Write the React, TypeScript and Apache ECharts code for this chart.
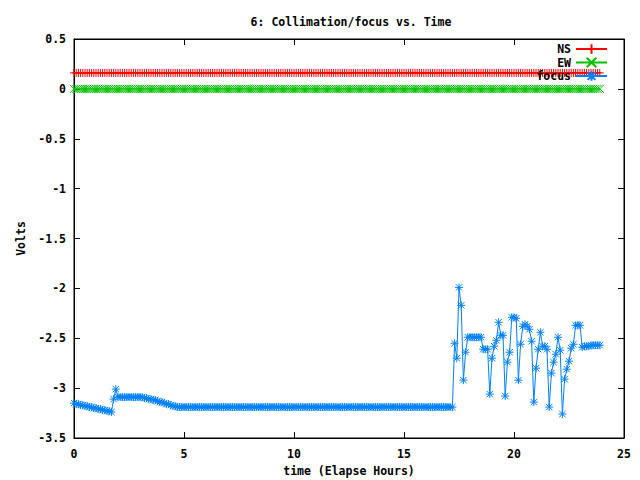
import React, { useEffect, useRef } from "react";
import * as echarts from "echarts";

const TITLE = "6: Collimation/focus vs. Time";
const X_NAME = "time (Elapse Hours)";
const Y_NAME = "Volts";
const SERIES_NAMES = ["NS", "EW", "focus"];
const X_TICKS = [0, 5, 10, 15, 20, 25];
const Y_TICKS = [0.5, 0, -0.5, -1, -1.5, -2, -2.5, -3, -3.5];

// focus voltage, one sample every 0.1 h from t = 0.0 h to t = 23.9 h
const focusValues = [
  // 0.0 - 1.9
  -3.15, -3.16, -3.16, -3.17, -3.17, -3.18, -3.18, -3.19, -3.19, -3.20,
  -3.20, -3.21, -3.21, -3.22, -3.22, -3.23, -3.23, -3.24, -3.11, -3.01,
  // 2.0 - 4.9
  -3.09, -3.09, -3.09, -3.09, -3.09, -3.09, -3.09, -3.09, -3.09, -3.09,
  -3.09, -3.09, -3.10, -3.10, -3.11, -3.11, -3.12, -3.12, -3.13, -3.14,
  -3.14, -3.15, -3.16, -3.16, -3.17, -3.18, -3.18, -3.19, -3.19, -3.19,
  // 5.0 - 17.2
  -3.19, -3.19, -3.19, -3.19, -3.19, -3.19, -3.19, -3.19, -3.19, -3.19,
  -3.19, -3.19, -3.19, -3.19, -3.19, -3.19, -3.19, -3.19, -3.19, -3.19,
  -3.19, -3.19, -3.19, -3.19, -3.19, -3.19, -3.19, -3.19, -3.19, -3.19,
  -3.19, -3.19, -3.19, -3.19, -3.19, -3.19, -3.19, -3.19, -3.19, -3.19,
  -3.19, -3.19, -3.19, -3.19, -3.19, -3.19, -3.19, -3.19, -3.19, -3.19,
  -3.19, -3.19, -3.19, -3.19, -3.19, -3.19, -3.19, -3.19, -3.19, -3.19,
  -3.19, -3.19, -3.19, -3.19, -3.19, -3.19, -3.19, -3.19, -3.19, -3.19,
  -3.19, -3.19, -3.19, -3.19, -3.19, -3.19, -3.19, -3.19, -3.19, -3.19,
  -3.19, -3.19, -3.19, -3.19, -3.19, -3.19, -3.19, -3.19, -3.19, -3.19,
  -3.19, -3.19, -3.19, -3.19, -3.19, -3.19, -3.19, -3.19, -3.19, -3.19,
  -3.19, -3.19, -3.19, -3.19, -3.19, -3.19, -3.19, -3.19, -3.19, -3.19,
  -3.19, -3.19, -3.19, -3.19, -3.19, -3.19, -3.19, -3.19, -3.19, -3.19,
  -3.19, -3.19, -3.19,
  // 17.3 - 23.9
  -2.55, -2.70, -1.99, -2.17, -2.92, -2.64, -2.49, -2.49, -2.49, -2.49,
  -2.49, -2.49, -2.49, -2.61, -2.61, -2.61, -3.06, -2.70, -2.58, -2.52,
  -2.34, -2.47, -2.47, -3.08, -2.74, -2.64, -2.29, -2.29, -2.30, -2.92,
  -2.56, -2.38, -2.36, -2.38, -2.41, -2.53, -3.14, -2.80, -2.61, -2.44,
  -2.58, -2.58, -2.61, -3.19, -2.85, -2.74, -2.66, -2.49, -2.62, -3.26,
  -2.91, -2.81, -2.73, -2.60, -2.56, -2.37, -2.37, -2.37, -2.59, -2.58,
  -2.58, -2.58, -2.57, -2.57, -2.57, -2.57, -2.57,
];

const nsValues = [
  0.16, 0.16, 0.16, 0.16, 0.16, 0.16, 0.16, 0.16, 0.16, 0.16, 0.16, 0.16, 0.16, 0.16, 0.16, 0.16, 0.16, 0.16, 0.16, 0.16,
  0.16, 0.16, 0.16, 0.16, 0.16, 0.16, 0.16, 0.16, 0.16, 0.16, 0.16, 0.16, 0.16, 0.16, 0.16, 0.16, 0.16, 0.16, 0.16, 0.16,
  0.16, 0.16, 0.16, 0.16, 0.16, 0.16, 0.16, 0.16, 0.16, 0.16, 0.16, 0.16, 0.16, 0.16, 0.16, 0.16, 0.16, 0.16, 0.16, 0.16,
  0.16, 0.16, 0.16, 0.16, 0.16, 0.16, 0.16, 0.16, 0.16, 0.16, 0.16, 0.16, 0.16, 0.16, 0.16, 0.16, 0.16, 0.16, 0.16, 0.16,
  0.16, 0.16, 0.16, 0.16, 0.16, 0.16, 0.16, 0.16, 0.16, 0.16, 0.16, 0.16, 0.16, 0.16, 0.16, 0.16, 0.16, 0.16, 0.16, 0.16,
  0.16, 0.16, 0.16, 0.16, 0.16, 0.16, 0.16, 0.16, 0.16, 0.16, 0.16, 0.16, 0.16, 0.16, 0.16, 0.16, 0.16, 0.16, 0.16, 0.16,
  0.16, 0.16, 0.16, 0.16, 0.16, 0.16, 0.16, 0.16, 0.16, 0.16, 0.16, 0.16, 0.16, 0.16, 0.16, 0.16, 0.16, 0.16, 0.16, 0.16,
  0.16, 0.16, 0.16, 0.16, 0.16, 0.16, 0.16, 0.16, 0.16, 0.16, 0.16, 0.16, 0.16, 0.16, 0.16, 0.16, 0.16, 0.16, 0.16, 0.16,
  0.16, 0.16, 0.16, 0.16, 0.16, 0.16, 0.16, 0.16, 0.16, 0.16, 0.16, 0.16, 0.16, 0.16, 0.16, 0.16, 0.16, 0.16, 0.16, 0.16,
  0.16, 0.16, 0.16, 0.16, 0.16, 0.16, 0.16, 0.16, 0.16, 0.16, 0.16, 0.16, 0.16, 0.16, 0.16, 0.16, 0.16, 0.16, 0.16, 0.16,
  0.16, 0.16, 0.16, 0.16, 0.16, 0.16, 0.16, 0.16, 0.16, 0.16, 0.16, 0.16, 0.16, 0.16, 0.16, 0.16, 0.16, 0.16, 0.16, 0.16,
  0.16, 0.16, 0.16, 0.16, 0.16, 0.16, 0.16, 0.16, 0.16, 0.16, 0.16, 0.16, 0.16, 0.16, 0.16, 0.16, 0.16, 0.16, 0.16, 0.16,
];

const ewValues = [
  0, 0, 0, 0, 0, 0, 0, 0, 0, 0, 0, 0, 0, 0, 0, 0, 0, 0, 0, 0,
  0, 0, 0, 0, 0, 0, 0, 0, 0, 0, 0, 0, 0, 0, 0, 0, 0, 0, 0, 0,
  0, 0, 0, 0, 0, 0, 0, 0, 0, 0, 0, 0, 0, 0, 0, 0, 0, 0, 0, 0,
  0, 0, 0, 0, 0, 0, 0, 0, 0, 0, 0, 0, 0, 0, 0, 0, 0, 0, 0, 0,
  0, 0, 0, 0, 0, 0, 0, 0, 0, 0, 0, 0, 0, 0, 0, 0, 0, 0, 0, 0,
  0, 0, 0, 0, 0, 0, 0, 0, 0, 0, 0, 0, 0, 0, 0, 0, 0, 0, 0, 0,
  0, 0, 0, 0, 0, 0, 0, 0, 0, 0, 0, 0, 0, 0, 0, 0, 0, 0, 0, 0,
  0, 0, 0, 0, 0, 0, 0, 0, 0, 0, 0, 0, 0, 0, 0, 0, 0, 0, 0, 0,
  0, 0, 0, 0, 0, 0, 0, 0, 0, 0, 0, 0, 0, 0, 0, 0, 0, 0, 0, 0,
  0, 0, 0, 0, 0, 0, 0, 0, 0, 0, 0, 0, 0, 0, 0, 0, 0, 0, 0, 0,
  0, 0, 0, 0, 0, 0, 0, 0, 0, 0, 0, 0, 0, 0, 0, 0, 0, 0, 0, 0,
  0, 0, 0, 0, 0, 0, 0, 0, 0, 0, 0, 0, 0, 0, 0, 0, 0, 0, 0, 0,
];

const SAMPLE_STEP_HOURS = 0.1;
const times = focusValues.map((_, i) => Math.round(i * SAMPLE_STEP_HOURS * 10) / 10);

const FONT = "'DejaVu Sans Mono', monospace";
const PLUS = "path://M5,0L5,10M0,5L10,5";
const CROSS = "path://M0,0L10,10M0,10L10,0";
const STAR = "path://M5,0L5,10M0,5L10,5M1,1L9,9M1,9L9,1";

export default function App() {
  const ref = useRef<HTMLDivElement>(null);
  useEffect(() => {
    if (!ref.current) return;
    const chart = echarts.init(ref.current, null, { renderer: "svg" });
    const pair = (vals: number[]) => vals.map((v, i) => [times[i], v]);
    const textStyle = { fontFamily: FONT, fontSize: 11.5, fontWeight: "bold", color: "#000" };
    const axisCommon = {
      axisLine: { show: true, onZero: false, lineStyle: { color: "#000", width: 1 } },
      axisTick: { show: true, inside: true, length: 6, lineStyle: { color: "#000", width: 1 } },
      splitLine: { show: false },
    };
    const mkSeries = (name: string, vals: number[], color: string, symbol: string, size: number) => ({
      name,
      type: "line",
      data: pair(vals),
      symbol,
      symbolSize: size,
      showSymbol: true,
      showAllSymbol: true,
      lineStyle: { color, width: 1 },
      itemStyle: { color, borderColor: color, borderWidth: 1 },
      emphasis: { disabled: true },
    });
    chart.setOption({
      animation: false,
      backgroundColor: "#fff",
      title: {
        text: TITLE,
        left: 346,
        top: 11,
        textAlign: "center",
        textStyle: { ...textStyle },
      },
      legend: {
        data: SERIES_NAMES,
        orient: "vertical",
        right: 32,
        top: 43,
        align: "right",
        itemWidth: 31,
        itemHeight: 12,
        itemGap: 1.5,
        padding: 0,
        textStyle: { ...textStyle },
        selectedMode: false,
      },
      grid: {
        left: 74,
        right: 16,
        top: 39,
        bottom: 42,
        show: true,
        borderColor: "#000",
        borderWidth: 1,
        containLabel: false,
        outerBoundsMode: "none",
      },
      xAxis: [
        {
          type: "value",
          min: X_TICKS[0],
          max: X_TICKS[X_TICKS.length - 1],
          interval: X_TICKS[1] - X_TICKS[0],
          position: "bottom",
          name: X_NAME,
          nameLocation: "middle",
          nameGap: 24,
          nameTextStyle: { ...textStyle },
          axisLabel: { ...textStyle, margin: 10 },
          ...axisCommon,
        },
        {
          type: "value",
          min: X_TICKS[0],
          max: X_TICKS[X_TICKS.length - 1],
          interval: X_TICKS[1] - X_TICKS[0],
          position: "top",
          axisLabel: { show: false },
          ...axisCommon,
        },
      ],
      yAxis: [
        {
          type: "value",
          min: Y_TICKS[Y_TICKS.length - 1],
          max: Y_TICKS[0],
          interval: Y_TICKS[0] - Y_TICKS[1],
          position: "left",
          name: Y_NAME,
          nameLocation: "middle",
          nameRotate: 90,
          nameGap: 37,
          nameTextStyle: { ...textStyle },
          axisLabel: { ...textStyle, margin: 8 },
          ...axisCommon,
        },
        {
          type: "value",
          min: Y_TICKS[Y_TICKS.length - 1],
          max: Y_TICKS[0],
          interval: Y_TICKS[0] - Y_TICKS[1],
          position: "right",
          axisLabel: { show: false },
          ...axisCommon,
        },
      ],
      series: [
        mkSeries(SERIES_NAMES[0], nsValues, "#ff0000", PLUS, 8),
        mkSeries(SERIES_NAMES[1], ewValues, "#00c000", CROSS, 8),
        mkSeries(SERIES_NAMES[2], focusValues, "#0080ff", STAR, 8),
      ],
    });
    return () => chart.dispose();
  }, []);
  return <div ref={ref} style={{ width: 640, height: 480, position: "absolute", left: 0, top: 0 }} />;
}
